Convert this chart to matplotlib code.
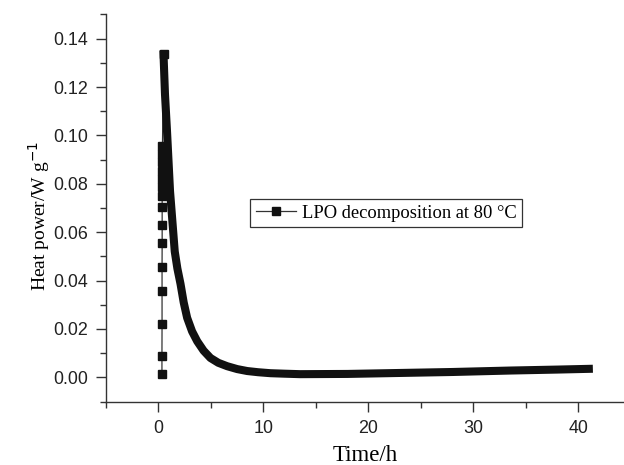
import numpy as np
import matplotlib
matplotlib.use("Agg")
import matplotlib.pyplot as plt
from matplotlib.ticker import MultipleLocator

# rising edge (single markers)
rise_time = [0.33, 0.33, 0.34, 0.34, 0.34, 0.35, 0.35, 0.35, 0.35, 0.36, 0.36, 0.36, 0.37, 0.37, 0.38]
rise_power = [0.0015, 0.0090, 0.0221, 0.0357, 0.0458, 0.0557, 0.0630, 0.0705,
              0.0748, 0.0785, 0.0820, 0.0854, 0.0889, 0.0924, 0.0958]

# decay and tail (dense markers form a thick band)
decay_time = [0.48, 0.62, 0.81, 1.10, 1.55, 1.80, 2.10, 2.40, 2.73, 3.20, 3.69, 4.30,
              4.95, 5.70, 6.54, 7.50, 8.45, 9.50, 10.67, 12.0, 13.5, 18.0, 23.0, 28.0,
              33.5, 38.0, 41.0]
decay_power = [0.1335, 0.1170, 0.1020, 0.0770, 0.0520, 0.0450, 0.0386, 0.0310, 0.0246,
               0.0190, 0.0149, 0.0110, 0.0080, 0.0060, 0.0046, 0.0034, 0.0026, 0.0021,
               0.0017, 0.0015, 0.0013, 0.0014, 0.0018, 0.0022, 0.0028, 0.0032, 0.0035]

label = "LPO decomposition at 80 °C"

fig = plt.figure(figsize=(6.24, 4.65), dpi=100)
ax = fig.add_axes([106 / 624, 63.5 / 465, 518 / 624, 387 / 465])

# labelled series: markers on the rising edge, joined to the peak
t = rise_time + decay_time[:1]
p = rise_power + decay_power[:1]
ax.plot(t, p, '-', color='#333333', lw=0.9, marker='s', ms=5.2,
        mfc='#111111', mec='#111111', label=label)
# overlapping markers of the decay drawn as one thick band
ax.plot(decay_time, decay_power, '-', color='#111111', lw=5.8,
        solid_capstyle='projecting', solid_joinstyle='round')

ax.set_xlim(-5, 44.35)
ax.set_ylim(-0.01, 0.15)
ax.xaxis.set_major_locator(MultipleLocator(10))
ax.xaxis.set_minor_locator(MultipleLocator(5))
ax.yaxis.set_major_locator(MultipleLocator(0.02))
ax.yaxis.set_minor_locator(MultipleLocator(0.01))
ax.yaxis.set_major_formatter(plt.FuncFormatter(lambda v, _: f"{v:.2f}"))

for s in ['top', 'right']:
    ax.spines[s].set_visible(False)
for s in ['left', 'bottom']:
    ax.spines[s].set_color('#333333')
    ax.spines[s].set_linewidth(1.0)

ax.tick_params(which='major', direction='out', length=7, width=1.0, color='#333333',
               labelsize=12.9, labelcolor='#222222', pad=6)
ax.tick_params(which='minor', direction='out', length=4, width=1.0, color='#333333')
for lab in ax.get_xticklabels() + ax.get_yticklabels():
    lab.set_family('Liberation Sans')

ax.set_xlabel("Time/h", family='Liberation Serif', fontsize=16.5, labelpad=6)
ax.set_ylabel("Heat power/W g$^{-1}$", family='Liberation Serif', fontsize=14, labelpad=3)
ax.yaxis.set_label_coords(-0.105, 0.48)

leg = ax.legend(loc='upper left', bbox_to_anchor=(250 / 624, 1 - 199 / 465),
                bbox_transform=fig.transFigure, borderaxespad=0, fancybox=False,
                edgecolor='#333333', framealpha=1, handlelength=2.2, handletextpad=0.3,
                numpoints=1, borderpad=0.3,
                prop={'family': 'Liberation Serif', 'size': 13.3})
leg.get_frame().set_linewidth(0.9)

fig.savefig("out.png", dpi=100)
